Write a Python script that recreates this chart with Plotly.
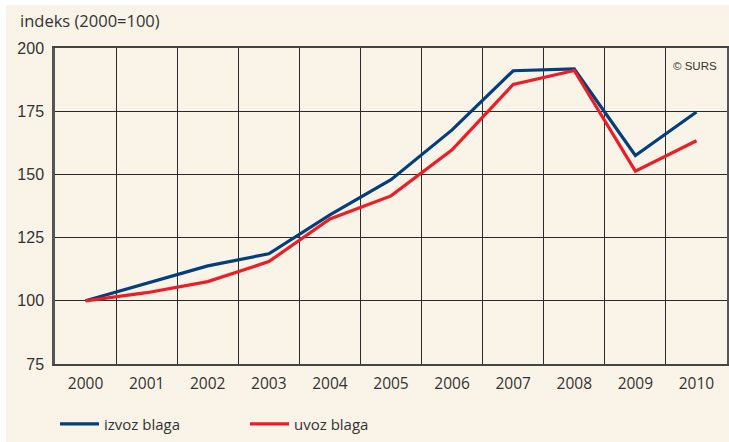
import plotly.graph_objects as go

years = ["2000", "2001", "2002", "2003", "2004", "2005", "2006", "2007", "2008", "2009", "2010"]
izvoz = [100, 106.8, 113.8, 118.6, 134.0, 147.9, 167.6, 191.0, 191.7, 157.5, 174.7]
uvoz = [100, 103.2, 107.6, 115.5, 132.4, 141.5, 159.7, 185.6, 191.1, 151.3, 163.3]
y_ticks = [75, 100, 125, 150, 175, 200]

CREAM = "#FAF4E8"
BLUE = "#033E7E"
RED = "#EE1C25"
GRID = "#2b2b2b"

xs = list(range(len(years)))

fig = go.Figure()
fig.add_trace(go.Scatter(x=xs, y=izvoz, mode="lines", name="izvoz blaga",
                         line=dict(color=BLUE, width=3.2)))
fig.add_trace(go.Scatter(x=xs, y=uvoz, mode="lines", name="uvoz blaga",
                         line=dict(color=RED, width=3.2)))

PW, PH = 672, 316  # plot area size in px

fig.update_layout(
    width=729, height=442,
    margin=dict(l=55, r=2, t=48, b=78, autoexpand=False),
    paper_bgcolor=CREAM, plot_bgcolor=CREAM,
    font=dict(family="Open Sans", size=14, color="#333333"),
    showlegend=True,
    legend=dict(orientation="h", x=0, xanchor="left", y=-0.19, yanchor="middle",
                itemwidth=39, entrywidth=136, entrywidthmode="pixels",
                font=dict(family="Open Sans", size=15, color="#333333"),
                bgcolor="rgba(0,0,0,0)"),
    xaxis=dict(range=[-0.5, len(years) - 0.5], tickvals=xs, ticktext=years,
               automargin=False,
               showgrid=False, zeroline=False,
               showline=True, linecolor="#444444", linewidth=2, mirror=True,
               ticks="outside", ticklen=4, tickcolor=CREAM,
               tickfont=dict(family="Open Sans", size=15.5, color="#333333"),
               minor=dict(tickvals=[i + 0.5 for i in xs[:-1]], showgrid=True,
                          gridcolor=GRID, gridwidth=1, ticks="")),
    yaxis=dict(range=[75, 200], tickvals=y_ticks, showgrid=True, gridcolor=GRID, gridwidth=1,
               automargin=False,
               zeroline=False, showline=True, linecolor="#555555", linewidth=2.5, mirror=True,
               ticks="outside", ticklen=5, tickcolor=CREAM,
               tickfont=dict(family="Liberation Sans", size=16, color="#333333")),
    shapes=[
        dict(type="rect", xref="paper", yref="paper", x0=-0.2, x1=(6 - 55) / PW,
             y0=-0.3, y1=1.2, fillcolor="white", line_width=0, layer="below"),
        dict(type="rect", xref="paper", yref="paper", x0=-0.2, x1=1.1,
             y0=(364 - 5) / PH, y1=1.2, fillcolor="white", line_width=0, layer="below"),
    ],
    annotations=[
        dict(text="indeks (2000=100)", xref="paper", yref="paper",
             x=(18 - 55) / PW, y=(364 - 21) / PH, xanchor="left", yanchor="middle",
             showarrow=False, font=dict(family="Open Sans", size=16.5, color="#333333")),
        dict(text="© SURS", xref="paper", yref="paper",
             x=(719 - 55) / PW, y=(364 - 66) / PH, xanchor="right", yanchor="middle",
             showarrow=False, font=dict(family="Liberation Sans", size=11.5, color="#333333")),
    ],
)

fig.write_html(
    "out.html",
    config={"displayModeBar": False},
    post_script="document.body.style.margin='0';document.documentElement.style.overflow='hidden';",
)
